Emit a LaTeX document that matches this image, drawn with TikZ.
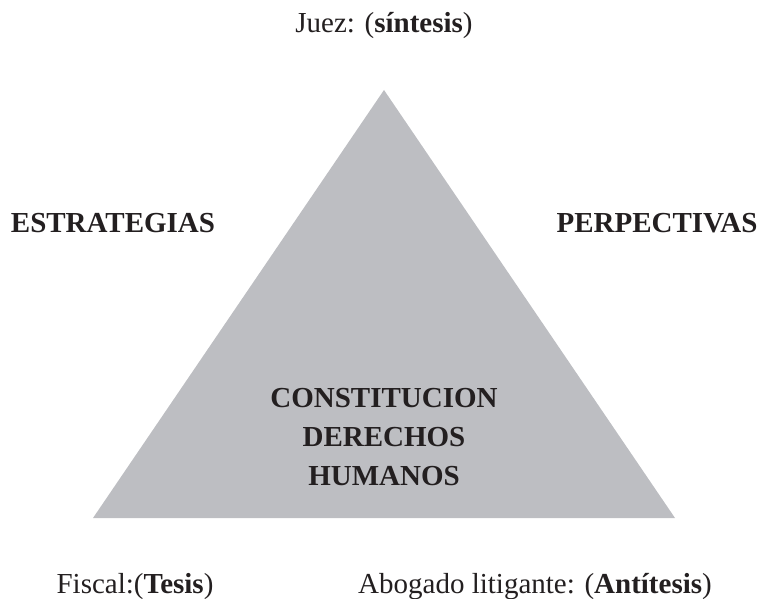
\documentclass[tikz,border=0pt]{standalone}
\usepackage{fontspec}
\setmainfont{Liberation Serif}
\definecolor{trigray}{RGB}{189,190,194}
\definecolor{ink}{RGB}{35,31,32}
\tikzset{ lbl/.style = { inner sep = 0pt % role under a corner
        , anchor = base
        , text = ink
        , font = \fontsize{29}{39}\selectfont
        }
        , side/.style = { lbl % side words
        , font = \fontsize{29}{39}\selectfont\bfseries
        }
        , core/.style = { inner sep = 0pt % text inside triangle
        , align = center
        , text = ink
        , font = \fontsize{29}{39}\selectfont\bfseries
        }
        }
\begin{document}
\begin{tikzpicture}[x=1pt, y=-1pt]
        \useasboundingbox (0,0) rectangle (760,599);
        \coordinate (apex) at (384,90);
        \coordinate (bl) at (93,518);
        \coordinate (br) at (675,518);
        \fill [trigray] (apex) -- (br) -- (bl) -- cycle;

        \node [lbl] (juez) at (384,33) {Juez: (\textbf{síntesis})};
        \node [side] (estr) at (113,232) {ESTRATEGIAS};
        \node [side] (pers) at (657,232) {PERPECTIVAS};
        \node [core] (cdh) at (384,437) {CONSTITUCION\\DERECHOS\\HUMANOS};
        \node [lbl] (fiscal) at (135,593) {Fiscal:(\textbf{Tesis})};
        \node [lbl] (abog) at (535,593) {Abogado litigante: (\textbf{Antítesis})};
\end{tikzpicture}
\end{document}
